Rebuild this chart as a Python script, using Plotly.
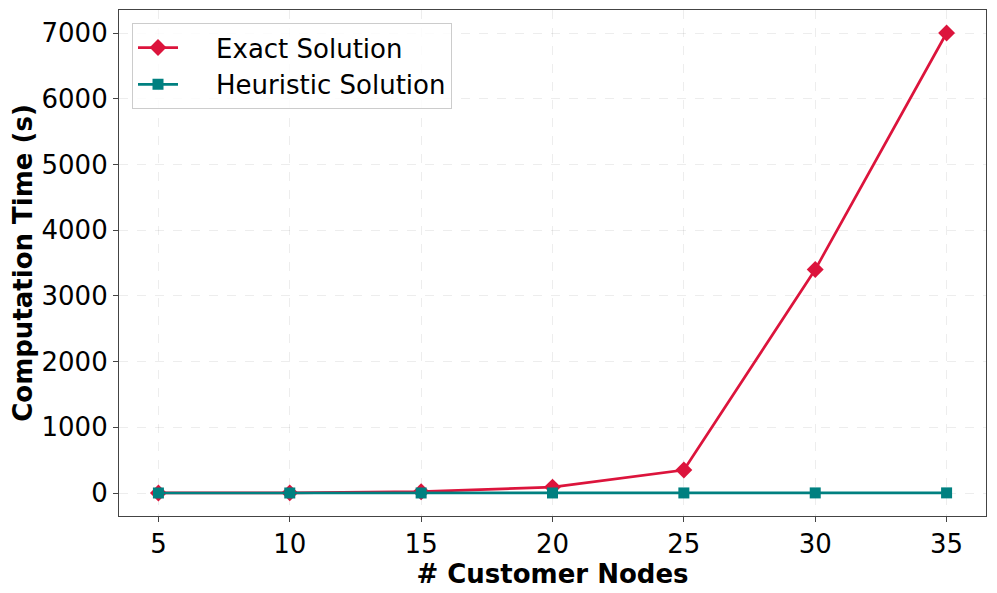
import plotly.graph_objects as go

customer_nodes = [5, 10, 15, 20, 25, 30, 35]
exact_time = [0.5, 2, 20, 90, 350, 3400, 7000]
heuristic_time = [0.1, 0.2, 0.4, 0.6, 0.9, 1.3, 1.8]

font_family = "DejaVu Sans"
body_offset = 8  # default page margin of the html body
pad = "\u00a0" * 4  # push legend text right, like the longer matplotlib handles

fig = go.Figure()
fig.add_trace(go.Scatter(x=customer_nodes, y=exact_time, name=pad + "Exact Solution",
                         mode="lines+markers",
                         line=dict(color="crimson", width=2.7),
                         marker=dict(symbol="diamond", size=13, color="crimson")))
fig.add_trace(go.Scatter(x=customer_nodes, y=heuristic_time, name=pad + "Heuristic Solution",
                         mode="lines+markers",
                         line=dict(color="teal", width=2.7),
                         marker=dict(symbol="square", size=11, color="teal")))

axis_common = dict(showline=True, linecolor="#444", linewidth=1.2, mirror=True,
                   ticks="outside", ticklen=5, tickcolor="#444",
                   showgrid=True, gridcolor="rgba(0,0,0,0.07)", griddash="dash",
                   zeroline=False, tickfont=dict(size=26, color="black"))

fig.update_xaxes(range=[3.5, 36.5], tickvals=customer_nodes,
                 title=dict(text="<b># Customer Nodes</b>", font=dict(size=26, color="black"),
                            standoff=0),
                 **axis_common)
fig.update_yaxes(range=[-350, 7350], tickvals=list(range(0, 7001, 1000)),
                 title=dict(text="<b>Computation Time (s)</b>", font=dict(size=26, color="black"),
                            standoff=8),
                 **axis_common)

fig.update_layout(width=997 - body_offset, height=593 - body_offset,
                  margin=dict(l=119 - body_offset, r=11, t=10 - body_offset, b=77),
                  plot_bgcolor="white", paper_bgcolor="white",
                  font=dict(family=font_family, color="black"),
                  showlegend=True,
                  legend=dict(x=0.015, y=0.974, xanchor="left", yanchor="top",
                              bgcolor="rgba(255,255,255,0.8)", bordercolor="#ccc",
                              borderwidth=1, font=dict(size=26), itemwidth=40))

fig.write_html("out.html")
